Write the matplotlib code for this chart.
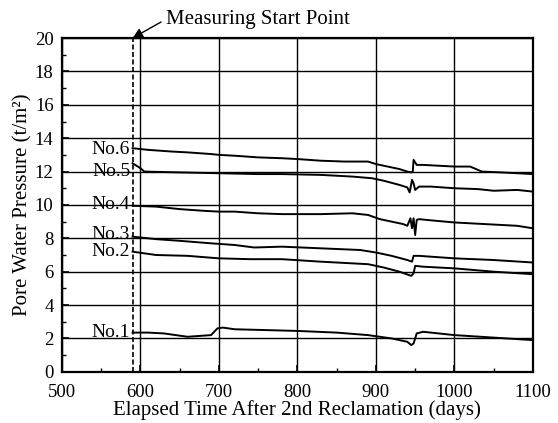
#!/usr/bin/env python3
# pore water pressure vs elapsed time after 2nd reclamation

import matplotlib
matplotlib.use("Agg")
import matplotlib.pyplot as plt
from matplotlib.ticker import MultipleLocator

plt.rcParams['font.family'] = ['Liberation Serif', 'DejaVu Serif']

# data
start_day = 590

t6 = [590, 610, 640, 660, 690, 700, 720, 750, 780, 800, 830, 860, 890, 900, 915, 930, 940, 945, 947, 948,
      952, 960, 980, 1000, 1020, 1025, 1035, 1060, 1080, 1100]
p6 = [13.4, 13.3, 13.2, 13.15, 13.05, 13.0, 12.95, 12.85, 12.8, 12.75, 12.65, 12.6, 12.6, 12.45, 12.3, 12.15,
      12.0, 11.95, 12.0, 12.7, 12.4, 12.4, 12.35, 12.3, 12.3, 12.2, 12.0, 11.95, 11.9, 11.85]

t5 = [590, 600, 605, 650, 700, 750, 780, 830, 870, 895, 910, 930, 940, 943, 946, 948, 950, 955, 970, 1000,
      1030, 1050, 1080, 1100]
p5 = [12.5, 12.2, 12.0, 11.95, 11.9, 11.85, 11.85, 11.8, 11.7, 11.6, 11.45, 11.2, 11.05, 10.75, 11.5, 11.3,
      10.9, 11.1, 11.1, 11.0, 10.95, 10.85, 10.9, 10.8]

t4 = [590, 620, 650, 680, 700, 720, 750, 780, 830, 870, 890, 905, 920, 935, 940, 944, 946, 948, 950, 952,
      955, 965, 1000, 1040, 1080, 1100]
p4 = [9.95, 9.9, 9.75, 9.65, 9.6, 9.6, 9.5, 9.45, 9.45, 9.5, 9.4, 9.15, 9.0, 8.85, 8.75, 9.2, 8.6, 9.2, 8.2,
      9.1, 9.15, 9.1, 8.95, 8.85, 8.75, 8.6]

t3 = [590, 620, 650, 690, 720, 745, 780, 830, 880, 900, 920, 940, 946, 948, 955, 1000, 1050, 1100]
p3 = [8.1, 7.95, 7.85, 7.7, 7.6, 7.45, 7.5, 7.4, 7.3, 7.15, 6.95, 6.7, 6.6, 6.95, 6.95, 6.8, 6.7, 6.55]

t2 = [590, 620, 660, 700, 740, 780, 830, 890, 910, 930, 945, 948, 950, 960, 1000, 1050, 1100]
p2 = [7.2, 7.0, 6.95, 6.8, 6.75, 6.75, 6.6, 6.45, 6.25, 6.0, 5.75, 5.9, 6.35, 6.3, 6.2, 6.0, 5.85]

t1 = [590, 610, 630, 660, 690, 698, 705, 720, 760, 800, 850, 890, 920, 940, 945, 948, 952, 960, 1000, 1050, 1100]
p1 = [2.35, 2.35, 2.3, 2.1, 2.2, 2.6, 2.65, 2.55, 2.5, 2.45, 2.35, 2.2, 2.0, 1.8, 1.6, 1.7, 2.3, 2.4, 2.2,
      2.05, 1.9]

labels = ["No.6", "No.5", "No.4", "No.3", "No.2", "No.1"]
label_y = [13.3, 12.0, 10.0, 8.2, 7.2, 2.35]


def main():
    fig = plt.figure(figsize=(5.58, 4.23), dpi=100, facecolor="white")
    ax = fig.add_axes([0.111, 0.121, 0.844, 0.789])

    # series
    for t, p in [(t6, p6), (t5, p5), (t4, p4), (t3, p3), (t2, p2), (t1, p1)]:
        ax.plot(t, p, color="black", lw=1.4, zorder=3)

    # series labels left of the start line
    for lab, y in zip(labels, label_y):
        ax.text(start_day - 3, y, lab, ha="right", va="center", fontsize=14)

    # measuring start line
    ax.axvline(start_day, color="black", lw=1.2, linestyle=(0, (3, 1.5)), zorder=2)
    ax.annotate("Measuring Start Point", xy=(start_day, 20), xycoords="data",
                xytext=(0.298, 0.955), textcoords="figure fraction",
                ha="left", va="center", fontsize=15,
                arrowprops=dict(arrowstyle="-|>", color="black", lw=1.0, relpos=(0, 0.5),
                                shrinkA=2, shrinkB=0), annotation_clip=False)

    # axes, ticks, grid
    ax.set_xlim(500, 1100)
    ax.set_ylim(0, 20)
    ax.xaxis.set_major_locator(MultipleLocator(100))
    ax.xaxis.set_minor_locator(MultipleLocator(50))
    ax.yaxis.set_major_locator(MultipleLocator(2))
    ax.yaxis.set_minor_locator(MultipleLocator(1))
    ax.tick_params(which="both", direction="in", labelsize=13.5)
    ax.tick_params(which="major", length=5, width=1.2, pad=6)
    ax.tick_params(axis="x", which="major", pad=9)
    ax.tick_params(which="minor", length=3, width=1.0)
    ax.grid(True, which="major", color="black", lw=1.0)
    for s in ax.spines.values():
        s.set_linewidth(1.6)

    ax.set_xlabel("Elapsed Time After 2nd Reclamation (days)", fontsize=15, labelpad=-1)
    ax.set_ylabel("Pore Water Pressure (t/m²)", fontsize=15, labelpad=2)

    fig.savefig("out.png", dpi=100, facecolor="white")


if __name__ == "__main__":
    main()
